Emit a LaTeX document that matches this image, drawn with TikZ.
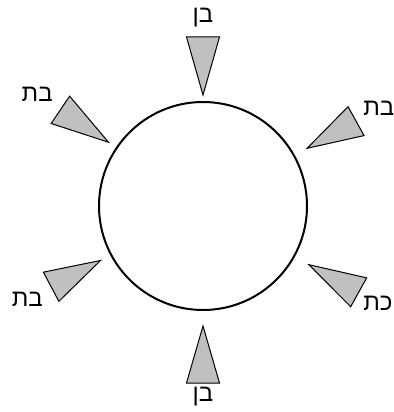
\documentclass[tikz,border=0pt]{standalone}
\usepackage{fontspec}
\newfontfamily\hebfont[Script=Hebrew]{Liberation Sans}
\TeXXeTstate=1
\usepackage{xcolor}
\definecolor{seatgray}{HTML}{C0C0C0}

\begin{document}
\begin{tikzpicture}[x=0.5pt, y=0.5pt,
  roundtable/.style={draw, circle, line width=1pt, minimum size=104pt, inner sep=0pt},
  seat/.style={draw, fill=seatgray, line width=0.5pt, line join=miter},
  who/.style={font=\fontsize{12}{14}\hebfont, inner sep=0pt}
]
  \useasboundingbox (-203,-206) rectangle (190,206);

  % Table
  \node[roundtable] (table) at (0,0) {};

  % Seats around the table
  \foreach \ang/\lbl/\tip/\base/\dist in {90/בן/111/169/188, 29/בת/119/175/201,
      146/בת/114/172/200, 208/בת/116/172/199, 331/כת/121/178/200, 270/בן/120/177/191}{
    \draw[seat, rotate=\ang] (\tip,0) -- (\base,16.5) -- (\base,-16.5) -- cycle;
    \node[who] (who-\ang) at (\ang:\dist) {\beginR\lbl\endR};
  }
\end{tikzpicture}
\end{document}
